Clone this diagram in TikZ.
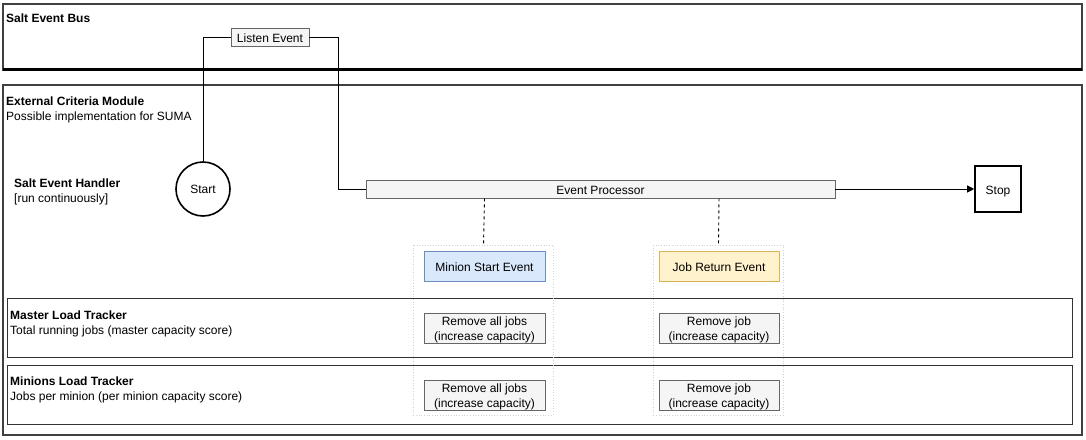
\documentclass[tikz,border=0pt]{standalone}
\usepackage{fontspec}
\setmainfont{Liberation Sans}
\usetikzlibrary{arrows.meta}
\definecolor{procfill}{HTML}{F5F5F5}
\definecolor{procdraw}{HTML}{666666}
\definecolor{bluefill}{HTML}{DAE8FC}
\definecolor{bluedraw}{HTML}{6C8EBF}
\definecolor{yelfill}{HTML}{FFF2CC}
\definecolor{yeldraw}{HTML}{D6B656}
\definecolor{grpdraw}{HTML}{C8D4D4}
\begin{document}
\begin{tikzpicture}[x=1pt,y=-1pt,
  every node/.style={font=\fontsize{12}{14}\selectfont, inner sep=0pt},
  lane/.style={draw=black!75, line width=1.6pt},
  tracker/.style={draw=black!80, line width=1pt},
  label/.style={anchor=base west, align=left},
  bold/.style={font=\fontsize{12}{14}\selectfont\bfseries},
  proc/.style={draw=procdraw, fill=procfill, line width=0.8pt},
  one/.style={text height=10pt, text depth=0pt},
  bluebox/.style={draw=bluedraw, fill=bluefill, line width=0.8pt},
  yelbox/.style={draw=yeldraw, fill=yelfill, line width=0.8pt},
  grp/.style={draw=grpdraw, dotted, line width=0.7pt},
  conn/.style={draw=black, line width=0.9pt},
  dconn/.style={draw=black, line width=0.9pt, dash pattern=on 3pt off 3pt},
  txt2/.style={align=center, font=\fontsize{12}{14.5}\selectfont}
]
\useasboundingbox[fill=white] (0,0) rectangle (1086,439);

% Lanes
\draw[lane] (3,4) rectangle (1082,70);
\draw[black, line width=2.2pt] (3,69.5) -- (1082,69.5);
\draw[lane] (3,85) rectangle (1082,435);
\node[label, bold] (busT) at (6,22.5) {Salt Event Bus};
\node[label, bold] (ecmT) at (6,105) {External Criteria Module};
\node[label] (ecmS) at (6,120) {Possible implementation for SUMA};
\node[label, bold] (sehT) at (14,187) {Salt Event Handler};
\node[label] (sehS) at (14,202) {[run continuously]};

% Trackers
\draw[tracker] (7,298.5) rectangle (1072,357);
\draw[tracker] (7,365.5) rectangle (1072,424);
\node[label, bold] (mltT) at (10,319) {Master Load Tracker};
\node[label] (mltS) at (10,334) {Total running jobs (master capacity score)};
\node[label, bold] (nltT) at (10,385) {Minions Load Tracker};
\node[label] (nltS) at (10,400) {Jobs per minion (per minion capacity score)};

% Groups
\draw[grp] (413,245) rectangle (553,415);
\draw[grp] (653,245) rectangle (783,415);

% Nodes
\node[proc, one, minimum width=78pt, minimum height=18pt] (listen) at (270,37.5) {Listen Event};
\node[draw=black, line width=1.6pt, circle, minimum size=54pt] (start) at (203,189) {Start};
\node[proc, one, minimum width=469pt, minimum height=18pt] (proc) at (600.5,189) {Event Processor};
\node[draw=black, one, line width=1.6pt, minimum width=46pt, minimum height=46pt] (stop) at (998,189) {Stop};
\node[bluebox, one, minimum width=121pt, minimum height=30pt] (mse) at (484.5,266.5) {Minion Start Event};
\node[yelbox, one, minimum width=120pt, minimum height=30pt] (jre) at (719,266.5) {Job Return Event};
\node[proc, minimum width=121pt, minimum height=30pt] (r1) at (484.5,328) {};
\node[proc, minimum width=120pt, minimum height=30pt] (r2) at (719,328) {};
\node[proc, minimum width=121pt, minimum height=30pt] (r3) at (484.5,395) {};
\node[proc, minimum width=120pt, minimum height=30pt] (r4) at (719,395) {};
\node[txt2] (r1t) at ([yshift=-2pt]r1.center) {Remove all jobs\\(increase capacity)};
\node[txt2] (r2t) at ([yshift=-2pt]r2.center) {Remove job\\(increase capacity)};
\node[txt2] (r3t) at ([yshift=-2pt]r3.center) {Remove all jobs\\(increase capacity)};
\node[txt2] (r4t) at ([yshift=-2pt]r4.center) {Remove job\\(increase capacity)};

% Connectors
\draw[conn] (listen.west) -| (start.north);
\draw[conn] (listen.east) -- (338,37.5) |- (proc.west);
\draw[conn, -{Triangle[length=7pt,width=7pt]}] (proc.east) -- (stop.west);
\draw[dconn] (proc.south -| mse.north) -- (483.5,245);
\draw[dconn] (proc.south -| jre.north) -- (718.5,245);
\end{tikzpicture}
\end{document}
